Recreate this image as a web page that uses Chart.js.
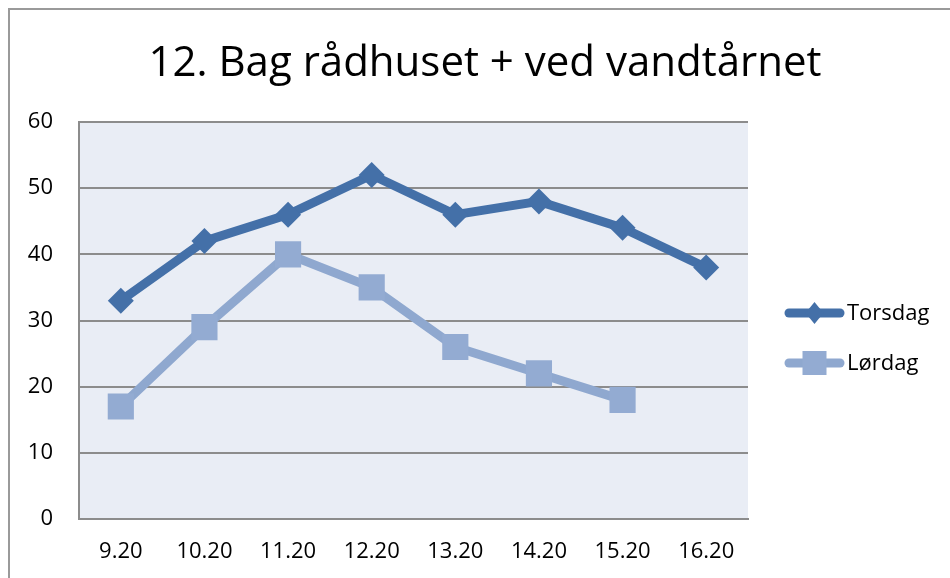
<!DOCTYPE html>
<html>
<head>
<meta charset="utf-8">
<script src="https://cdn.jsdelivr.net/npm/chart.js@4"></script>
<style>
    html, body { margin: 0; padding: 0; background: #fff; }
    #frame { position: absolute; left: 8px; top: 8px; width: 960px; height: 600px; border: 2px solid #9a9a9a; box-sizing: border-box; }
    #wrap { position: absolute; left: 0; top: 0; width: 950px; height: 578px; }
</style>
</head>
<body>
<div id="frame"></div>
<div id="wrap"><canvas id="lineChart"></canvas></div>
<script>
const chartTitle = "12. Bag rådhuset + ved vandtårnet";
const categories = ["9.20", "10.20", "11.20", "12.20", "13.20", "14.20", "15.20", "16.20"];
const torsdagValues = [33, 42, 46, 52, 46, 48, 44, 38];
const lordagValues = [17, 29, 40, 35, 26, 22, 18, null];
const seriesNames = ["Torsdag", "Lørdag"];

const fontFamily = "'Open Sans', sans-serif";

// title centred on the whole frame, not just the plot
const frameTitle = {
    id: "frameTitle",
    afterDraw(chart) {
        const ctx = chart.ctx;
        ctx.save();
        ctx.fillStyle = "#000";
        ctx.font = "42px " + fontFamily;
        ctx.textAlign = "center";
        ctx.textBaseline = "alphabetic";
        ctx.fillText(chartTitle, 485, 76);
        ctx.restore();
    }
};

// legend drawn like the spreadsheet: thick line with the marker in the middle
const sideLegend = {
    id: "sideLegend",
    afterDraw(chart) {
        const ctx = chart.ctx;
        const x0 = 785, x1 = 844;
        const rows = [313, 363];
        chart.data.datasets.forEach((ds, i) => {
            const y = rows[i];
            ctx.save();
            ctx.strokeStyle = ds.borderColor;
            ctx.lineWidth = ds.borderWidth;
            ctx.lineCap = "round";
            ctx.beginPath();
            ctx.moveTo(x0 + 4, y);
            ctx.lineTo(x1 - 4, y);
            ctx.stroke();
            ctx.fillStyle = ds.pointBackgroundColor;
            const cx = (x0 + x1) / 2;
            if (ds.pointStyle === "rectRot") {
                ctx.beginPath();
                ctx.moveTo(cx, y - 11);
                ctx.lineTo(cx + 9, y);
                ctx.lineTo(cx, y + 11);
                ctx.lineTo(cx - 9, y);
                ctx.closePath();
                ctx.fill();
            } else {
                ctx.fillRect(cx - 12, y - 12, 24, 24);
            }
            ctx.fillStyle = "#000";
            ctx.font = "22px " + fontFamily;
            ctx.textBaseline = "middle";
            ctx.fillText(ds.label, x1 + 3, y + 1);
            ctx.restore();
        });
    }
};

new Chart(document.getElementById("lineChart").getContext("2d"), {
    type: "line",
    data: {
        labels: categories,
        datasets: [
            {
                label: seriesNames[0],
                data: torsdagValues,
                borderColor: "#4470a8",
                backgroundColor: "#4470a8",
                pointBackgroundColor: "#4470a8",
                pointBorderColor: "#4470a8",
                borderWidth: 9,
                pointStyle: "rectRot",
                pointRadius: 13,
                pointBorderWidth: 0,
                tension: 0
            },
            {
                label: seriesNames[1],
                data: lordagValues,
                borderColor: "#8fa8cf",
                backgroundColor: "#93abd2",
                pointBackgroundColor: "#93abd2",
                pointBorderColor: "#93abd2",
                borderWidth: 9,
                pointStyle: "rect",
                pointRadius: 18.5,
                pointBorderWidth: 0,
                tension: 0
            }
        ]
    },
    options: {
        responsive: true,
        maintainAspectRatio: false,
        animation: false,
        layout: { padding: { left: 0, right: 202, top: 122, bottom: 0 } },
        plugins: {
            legend: { display: false },
            tooltip: { enabled: false },
            title: { display: false }
        },
        scales: {
            x: {
                offset: true,
                afterFit(scale) { scale.height = 59; },
                grid: { display: false, drawTicks: false },
                border: { display: true, color: "#8c8c8c", width: 2 },
                ticks: { color: "#000", font: { family: fontFamily, size: 22 }, padding: 20, maxRotation: 0 }
            },
            y: {
                min: 0,
                max: 60,
                afterFit(scale) { scale.width = 79; },
                grid: { color: "#8c8c8c", lineWidth: 2, drawTicks: false },
                border: { display: true, color: "#8c8c8c", width: 2 },
                ticks: { stepSize: 10, color: "#000", font: { family: fontFamily, size: 22 }, padding: 26 }
            }
        }
    },
    plugins: [
        {
            id: "plotBackground",
            beforeDraw(chart) {
                const a = chart.chartArea;
                chart.ctx.save();
                chart.ctx.fillStyle = "#e9edf5";
                chart.ctx.fillRect(a.left, a.top, a.right - a.left, a.bottom - a.top);
                chart.ctx.restore();
            }
        },
        frameTitle,
        sideLegend
    ]
});
</script>
</body>
</html>
